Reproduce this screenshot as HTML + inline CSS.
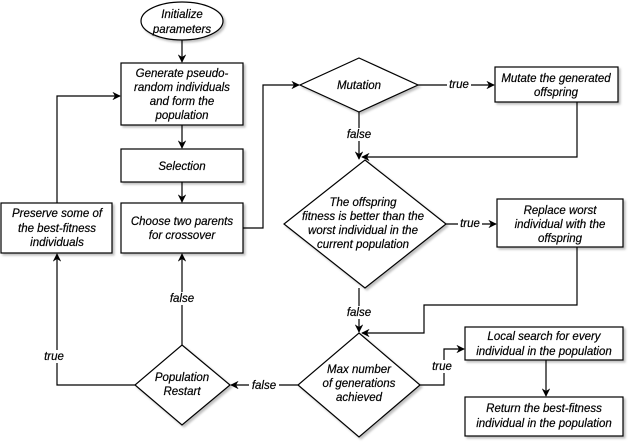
<!DOCTYPE html>
<html><head><style>body{margin:0;background:#fff}svg{display:block}text{font-family:"Liberation Sans",sans-serif;font-style:italic;font-size:11.5px;fill:#000;stroke:#000;stroke-width:0.2}</style></head><body>
<svg width="633" height="443" viewBox="0 0 633 443">
<defs><marker id="a" viewBox="0 0 10 10" refX="9" refY="5" markerWidth="7" markerHeight="7" orient="auto"><path d="M0,0L10,5L0,10L3,5z" fill="#000"/></marker>
<filter id="s"><feDropShadow dx="2" dy="2" stdDeviation="1" flood-opacity="0.25"/></filter></defs>
<g fill="#fff" stroke="#000" stroke-width="1.2" filter="url(#s)">
<ellipse cx="182" cy="21" rx="41" ry="19"/>
<rect x="121" y="63" width="122" height="62"/>
<rect x="121" y="149" width="122" height="33"/>
<rect x="121" y="203" width="122" height="50"/>
<rect x="1" y="203" width="111" height="50"/>
<path d="M359,58L418,85L359,112L300,85z"/>
<rect x="495" y="67" width="123" height="35"/>
<path d="M365,160L446,224L365,288L284,224z"/>
<rect x="497" y="199" width="126" height="48"/>
<path d="M359,333L420,385L359,437L298,385z"/>
<rect x="465" y="327" width="158" height="33"/>
<rect x="465" y="397" width="158" height="39"/>
<path d="M182,345L230,385L182,425L135,385z"/>
</g>
<g fill="none" stroke="#000" stroke-width="1.2" marker-end="url(#a)">
<path d="M182,40V62"/><path d="M182,125V148"/><path d="M182,182V202"/>
<path d="M243,228H263V85H299"/>
<path d="M418,85H494"/>
<path d="M359,112V159"/>
<path d="M577,102V157H362"/>
<path d="M446,224H496"/>
<path d="M359,288V332"/>
<path d="M577,247V305H424V333H362"/>
<path d="M420,385H444V349H464"/>
<path d="M546,360V396"/>
<path d="M298,385H231"/>
<path d="M182,345V254"/>
<path d="M135,385H57V254"/>
<path d="M57,203V96H120"/>
</g>
<g fill="#fff"><rect x="447" y="78" width="24" height="13"/><rect x="344" y="128" width="30" height="13"/><rect x="458" y="217" width="24" height="13"/><rect x="344" y="306" width="30" height="13"/><rect x="430" y="360" width="24" height="13"/><rect x="249" y="379" width="30" height="13"/><rect x="167" y="292" width="30" height="13"/><rect x="42" y="350" width="24" height="13"/></g>
<g text-anchor="middle">
<text x="182" y="18">Initialize</text><text x="182" y="33">parameters</text>
<text x="182" y="77">Generate pseudo-</text><text x="182" y="91">random individuals</text><text x="182" y="105">and form the</text><text x="182" y="119">population</text>
<text x="182" y="170">Selection</text>
<text x="182" y="225">Choose two parents</text><text x="182" y="239">for crossover</text>
<text x="57" y="217">Preserve some of</text><text x="57" y="232">the best-fitness</text><text x="57" y="246">individuals</text>
<text x="359" y="89">Mutation</text>
<text x="556" y="82">Mutate the generated</text><text x="556" y="96">offspring</text>
<text x="363" y="206">The offspring</text><text x="363" y="220">fitness is better than the</text><text x="363" y="234">worst individual in the</text><text x="363" y="248">current population</text>
<text x="560" y="214">Replace worst</text><text x="560" y="228">individual with the</text><text x="560" y="242">offspring</text>
<text x="359" y="373">Max number</text><text x="359" y="387">of generations</text><text x="359" y="401">achieved</text>
<text x="544" y="340">Local search for every</text><text x="544" y="355">individual in the population</text>
<text x="544" y="412">Return the best-fitness</text><text x="544" y="427">individual in the population</text>
<text x="182" y="381">Population</text><text x="182" y="395">Restart</text>
<text x="459" y="88">true</text><text x="359" y="138">false</text><text x="470" y="227">true</text><text x="359" y="316">false</text><text x="442" y="370">true</text><text x="264" y="389">false</text><text x="182" y="302">false</text><text x="54" y="360">true</text>
</g>
</svg></body></html>
